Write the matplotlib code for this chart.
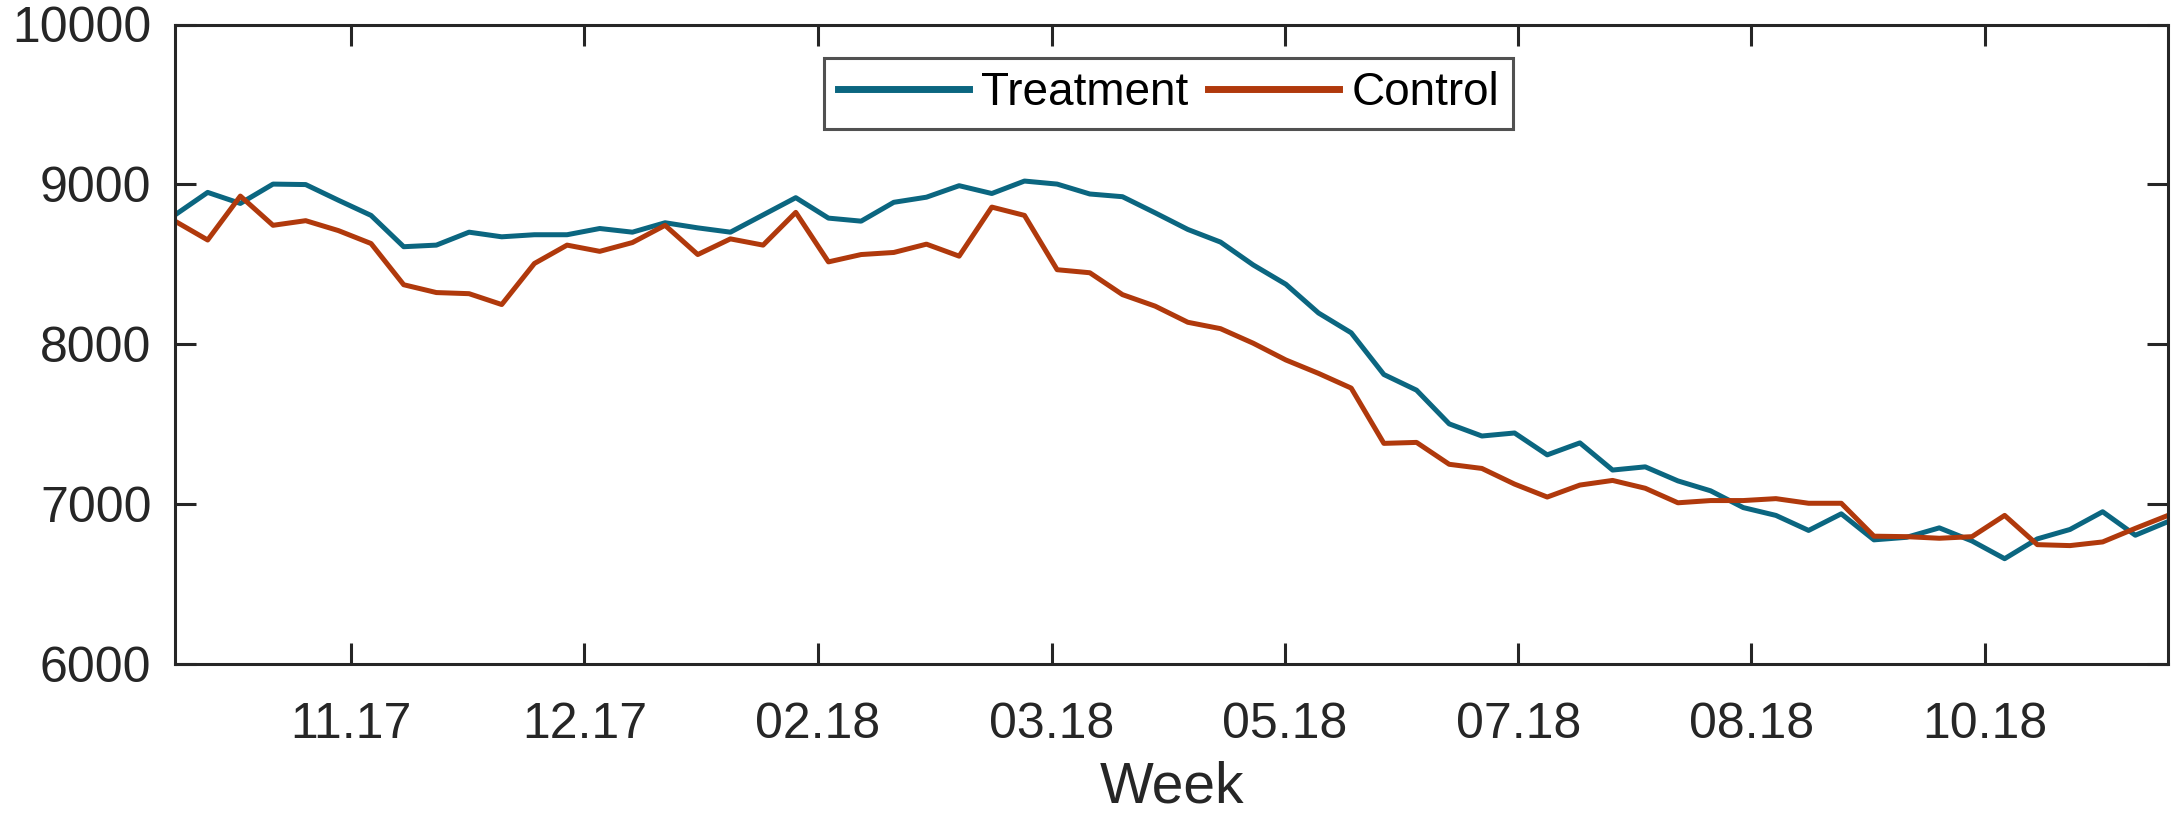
import numpy as np
import matplotlib
matplotlib.use("Agg")
import matplotlib.pyplot as plt

plt.rcParams["font.family"] = ["Liberation Sans", "DejaVu Sans"]

# weekly values
treatment = [8808, 8949, 8880, 9001, 8998, 8900, 8805, 8609, 8619, 8700,
             8671, 8684, 8684, 8723, 8700, 8759, 8727, 8700, 8808, 8916,
             8788, 8769, 8887, 8919, 8991, 8942, 9020, 9001, 8939, 8922,
             8821, 8717, 8638, 8495, 8374, 8194, 8070, 7809, 7711, 7500,
             7424, 7443, 7306, 7381, 7211, 7231, 7143, 7081, 6976, 6927,
             6833, 6937, 6774, 6790, 6849, 6767, 6656, 6780, 6839, 6950,
             6803, 6888]
control = [8769, 8651, 8926, 8743, 8772, 8710, 8629, 8371, 8322, 8315,
           8247, 8504, 8619, 8580, 8635, 8743, 8560, 8658, 8619, 8824,
           8514, 8560, 8573, 8625, 8550, 8857, 8805, 8465, 8446, 8309,
           8237, 8136, 8096, 8005, 7900, 7816, 7724, 7378, 7384, 7247,
           7221, 7123, 7042, 7117, 7146, 7097, 7006, 7020, 7020, 7032,
           7003, 7003, 6797, 6794, 6784, 6794, 6927, 6744, 6738, 6761,
           6846, 6927]
tick_labels = ["11.17", "12.17", "02.18", "03.18", "05.18", "07.18", "08.18", "10.18"]
tick_weeks = [5.40, 12.53, 19.68, 26.83, 33.97, 41.11, 48.24, 55.39]

weeks = np.arange(len(treatment))

fig = plt.figure(figsize=(21.78, 8.18), dpi=100)
ax = fig.add_axes([175 / 2178, 1 - 663.5 / 818, (2168 - 175) / 2178, (663.5 - 24.5) / 818])

ax.plot(weeks, treatment, color="#0b6680", lw=3.6, label="Treatment")
ax.plot(weeks, control, color="#b0390c", lw=3.6, label="Control")

ax.set_xlim(0, len(weeks) - 1)
ax.set_ylim(6000, 10000)
ax.set_yticks([6000, 7000, 8000, 9000, 10000])
ax.set_xticks(tick_weeks)
ax.set_xticklabels(tick_labels)

grey = "#262626"
for s in ax.spines.values():
    s.set_color(grey)
    s.set_linewidth(2.2)
ax.tick_params(direction="in", length=15, width=2.2, color=grey,
               top=True, right=True, labelsize=36, labelcolor=grey)
ax.tick_params(axis="x", pad=28)
ax.tick_params(axis="y", pad=17)

ax.set_xlabel("Week", fontsize=41, color=grey, labelpad=9)

leg = ax.legend(loc="upper center", bbox_to_anchor=(0.4985, 0.948), ncol=2,
                fontsize=33, frameon=True, fancybox=False, handlelength=2.86,
                handletextpad=0.26, columnspacing=0.44, borderpad=0.3,
                borderaxespad=0)
leg.get_frame().set_edgecolor(grey)
leg.get_frame().set_linewidth(2.2)
for line in leg.get_lines():
    line.set_linewidth(5)

fig.savefig("out.png", dpi=100)
